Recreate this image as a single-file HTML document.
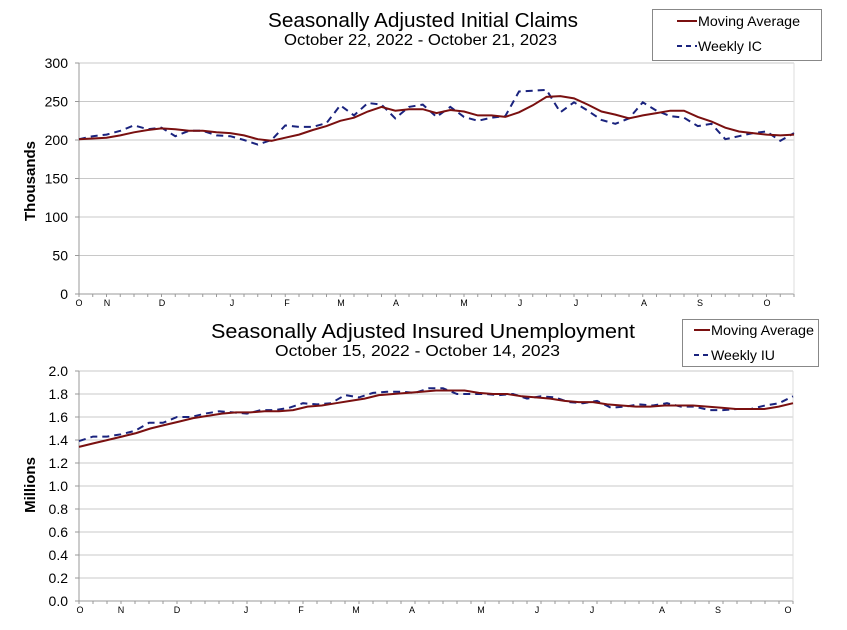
<!DOCTYPE html>
<html><head><meta charset="utf-8"><style>
body{margin:0;background:#fff;}
svg{display:block;font-family:"Liberation Sans",Arial,sans-serif;}
</style></head><body>
<svg id="s" width="847" height="630" xmlns="http://www.w3.org/2000/svg">
<rect width="847" height="630" fill="#fff"/>
<text x="268" y="27" font-size="20" textLength="310" lengthAdjust="spacingAndGlyphs">Seasonally Adjusted Initial Claims</text>
<text x="284" y="45" font-size="16" textLength="273" lengthAdjust="spacingAndGlyphs">October 22, 2022 - October 21, 2023</text>
<rect x="652.5" y="9.5" width="169" height="51" fill="#fff" stroke="#888"/>
<line x1="677" y1="21" x2="697" y2="21" stroke="#7a1010" stroke-width="2"/>
<text x="698" y="26" font-size="14" textLength="102" lengthAdjust="spacingAndGlyphs">Moving Average</text>
<line x1="677" y1="46" x2="697" y2="46" stroke="#1a237e" stroke-width="2" stroke-dasharray="5,4"/>
<text x="698" y="51" font-size="14" textLength="64" lengthAdjust="spacingAndGlyphs">Weekly IC</text>
<text x="211" y="338" font-size="20" textLength="424" lengthAdjust="spacingAndGlyphs">Seasonally Adjusted Insured Unemployment</text>
<text x="275" y="356" font-size="16" textLength="285" lengthAdjust="spacingAndGlyphs">October 15, 2022 - October 14, 2023</text>
<rect x="682.5" y="319.5" width="136" height="47" fill="#fff" stroke="#888"/>
<line x1="694" y1="330" x2="710" y2="330" stroke="#7a1010" stroke-width="2"/>
<text x="711" y="335" font-size="14" textLength="103" lengthAdjust="spacingAndGlyphs">Moving Average</text>
<line x1="694" y1="355" x2="710" y2="355" stroke="#1a237e" stroke-width="2" stroke-dasharray="5,4"/>
<text x="711" y="360" font-size="14" textLength="64" lengthAdjust="spacingAndGlyphs">Weekly IU</text>
<g id="g"></g>
</svg>
<script>
var NS="http://www.w3.org/2000/svg",g=document.getElementById("g");
function el(t,a,txt){var e=document.createElementNS(NS,t);for(var k in a)e.setAttribute(k,a[k]);if(txt!=null)e.textContent=txt;g.appendChild(e);return e;}
function chart(o){
 var L=79,R=o.R,T=o.T,B=o.B;
 for(var i=0;i<=o.n;i++){var y=B-(B-T)*i/o.n;
  el("line",{x1:L,x2:R,y1:y,y2:y,stroke:i==0?"#999":"#c8c8c8","stroke-width":1});
  el("text",{x:L-11,y:y+5,"font-size":14,"text-anchor":"end"},o.lab(i));
  el("line",{x1:L-4,x2:L,y1:y,y2:y,stroke:"#999"});}
 el("line",{x1:L,x2:L,y1:T,y2:B,stroke:"#999"});
 el("line",{x1:R,x2:R,y1:T,y2:B,stroke:"#ddd"});
 var N=o.w.length,dx=(R-L)/(N-1);
 for(var i=0;i<N;i++){var x=L+i*dx;el("line",{x1:x,x2:x,y1:B,y2:B+3,stroke:"#999"});}
 o.ml.forEach(function(m){el("text",{x:m[1],y:B+12,"font-size":9,"text-anchor":"middle"},m[0]);});
 function pts(a){var dxa=(R-L)/(a.length-1);return a.map(function(v,i){return (L+i*dxa).toFixed(1)+","+(B-(B-T)*(v-o.min)/(o.max-o.min)).toFixed(1);}).join(" ");}
 el("polyline",{points:pts(o.w),fill:"none",stroke:"#1a237e","stroke-width":2,"stroke-dasharray":"7,5"});
 el("polyline",{points:pts(o.m),fill:"none",stroke:"#7a1010","stroke-width":2});
}
chart({R:794,T:63,B:294,n:6,min:0,max:300,lab:function(i){return String(i*50);},
w:[201,205,207,212,219,214,216,205,212,212,206,205,200,194,200,219,217,217,222,245,232,248,246,228,243,246,230,243,230,225,229,231,263,264,265,236,249,238,226,221,228,249,238,231,229,218,221,201,205,209,211,199,209],
m:[201,202,203,206,210,213,215,214,212,212,210,209,206,201,199,203,207,213,218,225,229,237,243,238,240,240,235,239,237,232,232,230,236,245,256,257,254,246,237,233,228,232,235,238,238,230,224,216,211,209,207,206,207],
ml:[["O",79],["N",107],["D",162],["J",232],["F",287],["M",341],["A",396],["M",464],["J",520],["J",576],["A",644],["S",700],["O",767]]});
chart({R:793,T:371,B:601,n:10,min:0,max:2,lab:function(i){return (i*0.2).toFixed(1);},
w:[1.39,1.43,1.43,1.45,1.48,1.55,1.55,1.60,1.60,1.63,1.65,1.64,1.63,1.66,1.66,1.68,1.72,1.71,1.72,1.79,1.77,1.81,1.82,1.82,1.81,1.85,1.85,1.80,1.80,1.80,1.79,1.80,1.76,1.78,1.77,1.73,1.72,1.74,1.68,1.69,1.71,1.70,1.72,1.69,1.69,1.66,1.66,1.67,1.67,1.70,1.72,1.78],
m:[1.34,1.37,1.40,1.43,1.46,1.50,1.53,1.56,1.59,1.61,1.63,1.64,1.64,1.65,1.65,1.66,1.69,1.70,1.72,1.74,1.76,1.79,1.80,1.81,1.82,1.83,1.83,1.83,1.81,1.80,1.80,1.78,1.77,1.76,1.74,1.73,1.73,1.71,1.70,1.69,1.69,1.70,1.70,1.70,1.69,1.68,1.67,1.67,1.67,1.69,1.72],
ml:[["O",80],["N",121],["D",177],["J",246],["F",301],["M",356],["A",412],["M",481],["J",537],["J",592],["A",662],["S",718],["O",788]]});
</script>
<svg style="position:absolute;left:0;top:0" width="847" height="630" xmlns="http://www.w3.org/2000/svg" font-family="Liberation Sans,sans-serif">
<text transform="translate(35,181) rotate(-90)" font-size="15" font-weight="bold" text-anchor="middle">Thousands</text>
<text transform="translate(35,485) rotate(-90)" font-size="15" font-weight="bold" text-anchor="middle">Millions</text>
</svg>
</body></html>
